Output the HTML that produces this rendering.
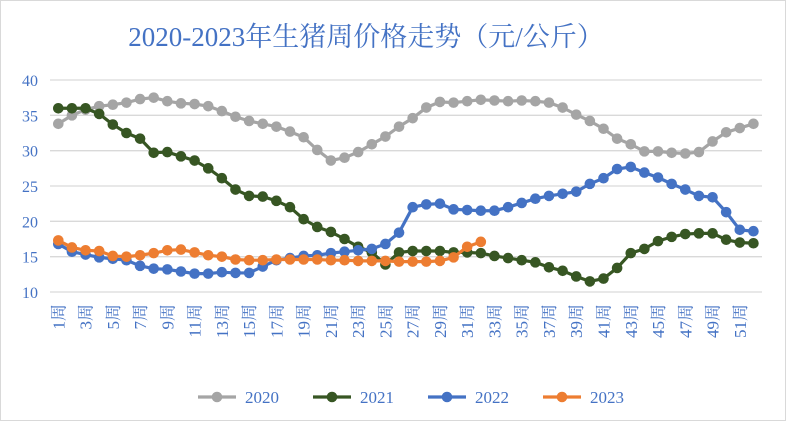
<!DOCTYPE html>
<html><head><meta charset="utf-8"><style>
body{margin:0;background:#fff}
svg{display:block}
text{font-family:"Liberation Serif","Noto Serif CJK SC",serif}
</style></head><body>
<svg id="c" width="786" height="421">
<rect x="0.5" y="0.5" width="785" height="420" fill="#fff" stroke="#d9d9d9"/>
<text x="366" y="46" text-anchor="middle" font-size="27" fill="#4472C4">2020-2023年生猪周价格走势（元/公斤）</text>
<g id="grid"></g><g id="series"></g><g id="xl"></g>
</svg>
<script>
const weeks=[];for(let i=1;i<=52;i++)weeks.push(i);
const yTicks=[10,15,20,25,30,35,40];
const seriesNames=["2020","2021","2022","2023"];
const colors=["#A5A5A5","#375623","#4472C4","#ED7D31"];
const s2020=[33.8,35,35.8,36.3,36.5,36.8,37.3,37.5,37,36.7,36.6,36.3,35.6,34.8,34.2,33.8,33.4,32.7,31.9,30.1,28.6,29,29.8,30.9,32,33.4,34.6,36.1,36.9,36.8,37,37.2,37.1,37,37.1,37,36.8,36.1,35.1,34.2,33.1,31.7,30.9,29.9,29.9,29.7,29.6,29.8,31.3,32.6,33.2,33.8];
const s2021=[36,36,36,35.2,33.7,32.5,31.7,29.7,29.8,29.2,28.6,27.5,26.1,24.5,23.6,23.5,22.9,22,20.3,19.2,18.5,17.5,16.4,15.6,13.9,15.6,15.8,15.8,15.8,15.6,15.6,15.5,15.1,14.8,14.5,14.2,13.5,13,12.2,11.5,11.9,13.4,15.5,16.1,17.2,17.8,18.2,18.3,18.3,17.4,17,16.9];
const s2022=[16.8,15.7,15.3,14.9,14.7,14.5,13.7,13.3,13.2,12.9,12.6,12.6,12.8,12.7,12.7,13.6,14.5,14.8,15.1,15.2,15.5,15.7,15.9,16.1,16.8,18.4,22,22.4,22.5,21.7,21.6,21.5,21.5,22,22.6,23.2,23.6,23.9,24.2,25.3,26.1,27.4,27.7,26.9,26.2,25.3,24.5,23.6,23.4,21.3,18.8,18.6];
const s2023=[17.3,16.3,15.9,15.8,15.1,15,15.2,15.5,15.9,16,15.6,15.2,15,14.6,14.5,14.5,14.6,14.6,14.6,14.6,14.5,14.5,14.4,14.4,14.4,14.3,14.3,14.3,14.4,14.9,16.4,17.1];
const allSeries=[s2020,s2021,s2022,s2023];
const NS="http://www.w3.org/2000/svg";
const x=w=>58.3+(w-1)*13.63;
const y=v=>292-(v-10)*(212/30);
function mk(tag,attrs,parent){const e=document.createElementNS(NS,tag);for(const k in attrs)e.setAttribute(k,attrs[k]);parent.appendChild(e);return e;}
const grid=document.getElementById('grid');
yTicks.forEach(t=>{
 const l=mk('line',{x1:50,x2:762,y1:y(t),y2:y(t),stroke:'#d9d9d9','stroke-width':1.3},grid);
 
 
 const tx=mk('text',{x:38,y:y(t)+6,'text-anchor':'end','font-size':16,fill:'#4472C4'},grid);
 tx.textContent=t;
 
 
});
const xl=document.getElementById('xl');
weeks.forEach(w=>{if(w%2===1){
 const t=mk('text',{transform:`translate(${x(w)+6},304) rotate(-90)`,'text-anchor':'end','font-size':17,fill:'#4472C4'},xl);
 t.textContent=w+'周';
 
 
}});
const sg=document.getElementById('series');
allSeries.forEach((d,si)=>{
 const g=mk('g',{},sg);
 
 
 const p=mk('polyline',{points:d.map((v,i)=>x(weeks[i])+','+y(v)).join(' '),fill:'none',stroke:colors[si],'stroke-width':3.2},g);
 
 
 d.forEach((v,i)=>{
  const c=mk('circle',{cx:x(weeks[i]),cy:y(v),r:5.3,fill:colors[si]},g);
  
  
 });
 const lx=198+si*115;
 const lg=mk('g',{},sg);
 
 
 mk('line',{x1:lx,x2:lx+38,y1:397,y2:397,stroke:colors[si],'stroke-width':3.2},lg);
 mk('circle',{cx:lx+19,cy:397,r:5.3,fill:colors[si]},lg);
 const t=mk('text',{x:lx+47,y:403,'font-size':17,fill:'#4472C4'},lg);
 t.textContent=seriesNames[si];
});
</script>
</body></html>
